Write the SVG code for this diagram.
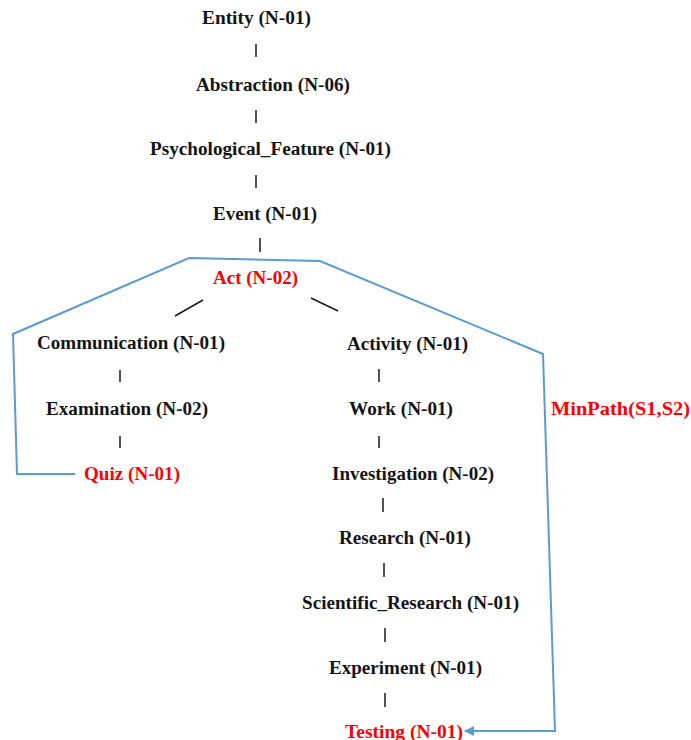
<svg xmlns="http://www.w3.org/2000/svg" width="691" height="740" viewBox="0 0 691 740">
<style>
text{font-family:"Liberation Serif","Times New Roman",serif;font-weight:bold;font-size:18px;fill:#141414}
text.hl{fill:#ff0000}
.bar{stroke:#1a1a1a;stroke-width:1.5;fill:none}
.path{stroke:#5b9bd5;stroke-width:2;fill:none}
</style>
<defs>
<marker id="ah" viewBox="0 0 10 10" refX="9" refY="5" markerWidth="5" markerHeight="5" orient="auto" markerUnits="strokeWidth">
<path d="M0,0 L10,5 L0,10 z" fill="#5b9bd5"/>
</marker>
</defs>
<rect width="691" height="740" fill="#ffffff"/>
<g id="connectors">
<line class="bar" x1="256" y1="44" x2="256" y2="57"/>
<line class="bar" x1="256" y1="110" x2="256" y2="123"/>
<line class="bar" x1="256" y1="175" x2="256" y2="188"/>
<line class="bar" x1="260" y1="238" x2="260" y2="252"/>
<line class="bar" x1="175" y1="316" x2="203" y2="300"/>
<line class="bar" x1="311" y1="298" x2="338" y2="311"/>
<line class="bar" x1="120" y1="370" x2="120" y2="382"/>
<line class="bar" x1="120" y1="436" x2="120" y2="448"/>
<line class="bar" x1="379" y1="369" x2="379" y2="382"/>
<line class="bar" x1="379" y1="436" x2="379" y2="448"/>
<line class="bar" x1="383" y1="498" x2="383" y2="512"/>
<line class="bar" x1="384" y1="563" x2="384" y2="577"/>
<line class="bar" x1="385" y1="628" x2="385" y2="642"/>
<line class="bar" x1="385" y1="693" x2="385" y2="707"/>
<polyline class="path" points="75,474 17,474 13,334 189,258 320,261 543,354 555,731 465,731" marker-end="url(#ah)"/>
</g>
<g id="n-entity"><text x="202" y="23.5" textLength="109" lengthAdjust="spacingAndGlyphs">Entity (N-01)</text></g>
<g id="n-abstraction"><text x="196" y="90.5" textLength="154" lengthAdjust="spacingAndGlyphs">Abstraction (N-06)</text></g>
<g id="n-psych"><text x="150" y="154.5" textLength="241" lengthAdjust="spacingAndGlyphs">Psychological_Feature (N-01)</text></g>
<g id="n-event"><text x="213" y="219.5" textLength="104" lengthAdjust="spacingAndGlyphs">Event (N-01)</text></g>
<g id="n-act"><text class="hl" x="213" y="283.5" textLength="85" lengthAdjust="spacingAndGlyphs">Act (N-02)</text></g>
<g id="n-communication"><text x="37" y="348.5" textLength="188" lengthAdjust="spacingAndGlyphs">Communication (N-01)</text></g>
<g id="n-examination"><text x="46" y="414.5" textLength="162" lengthAdjust="spacingAndGlyphs">Examination (N-02)</text></g>
<g id="n-quiz"><text class="hl" x="84" y="479.5" textLength="96" lengthAdjust="spacingAndGlyphs">Quiz (N-01)</text></g>
<g id="n-activity"><text x="347" y="349.5" textLength="121" lengthAdjust="spacingAndGlyphs">Activity (N-01)</text></g>
<g id="n-work"><text x="349" y="414.5" textLength="104" lengthAdjust="spacingAndGlyphs">Work (N-01)</text></g>
<g id="n-investigation"><text x="332" y="479.5" textLength="162" lengthAdjust="spacingAndGlyphs">Investigation (N-02)</text></g>
<g id="n-research"><text x="339" y="543.5" textLength="132" lengthAdjust="spacingAndGlyphs">Research (N-01)</text></g>
<g id="n-sciresearch"><text x="302" y="608.5" textLength="217" lengthAdjust="spacingAndGlyphs">Scientific_Research (N-01)</text></g>
<g id="n-experiment"><text x="329" y="673.5" textLength="153" lengthAdjust="spacingAndGlyphs">Experiment (N-01)</text></g>
<g id="n-testing"><text class="hl" x="345" y="737.5" textLength="118" lengthAdjust="spacingAndGlyphs">Testing (N-01)</text></g>
<g id="label-minpath"><text class="hl" x="551" y="414.5" textLength="139" lengthAdjust="spacingAndGlyphs">MinPath(S1,S2)</text></g>
</svg>
